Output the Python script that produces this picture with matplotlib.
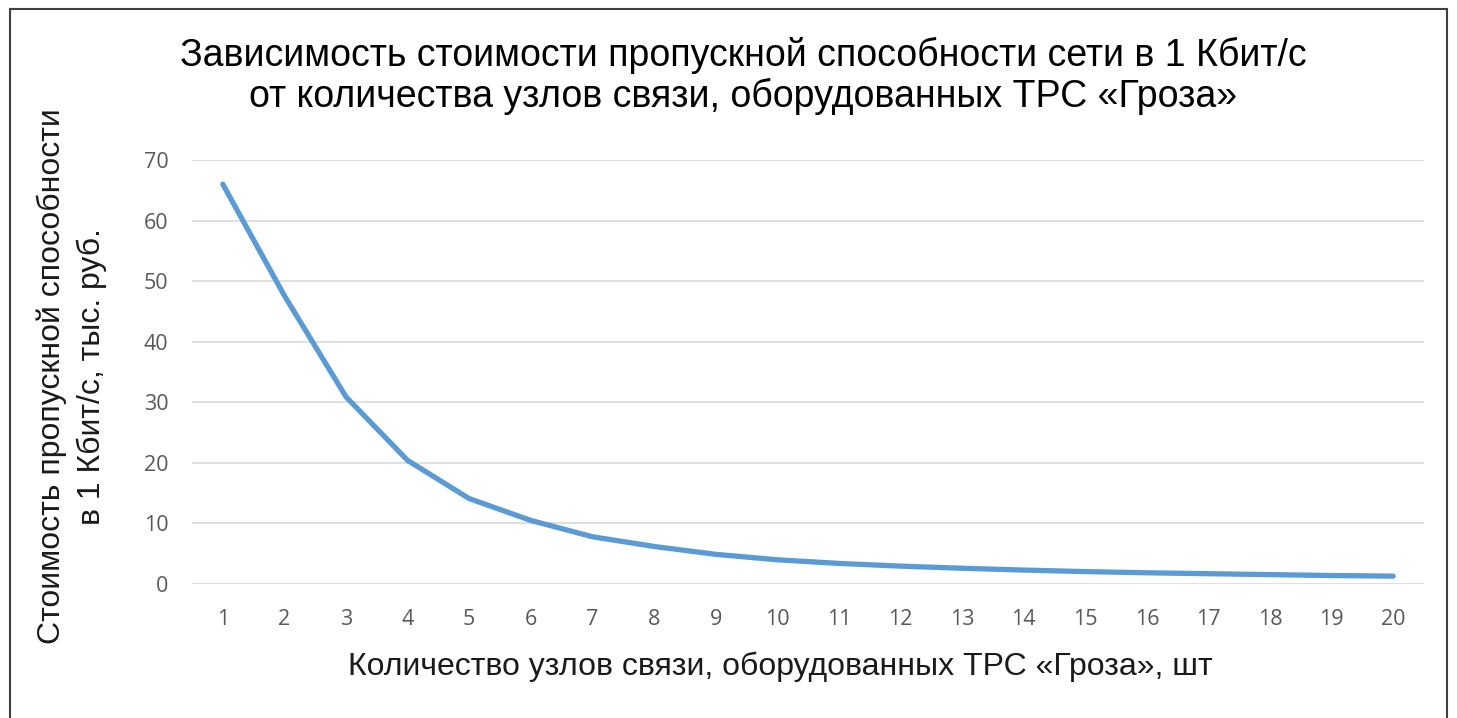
import matplotlib.pyplot as plt
from matplotlib.patches import Rectangle

# Данные
nodes = list(range(1, 21))
cost = [66.0, 47.6, 30.9, 20.4, 14.1, 10.5, 7.8, 6.2, 4.9, 4.0,
        3.4, 2.95, 2.6, 2.3, 2.05, 1.85, 1.7, 1.55, 1.4, 1.3]

title = ("Зависимость стоимости пропускной способности сети в 1 Кбит/с\n"
         "от количества узлов связи, оборудованных ТРС «Гроза»")
xlabel = "Количество узлов связи, оборудованных ТРС «Гроза», шт"
ylabel = "Стоимость пропускной способности\nв 1 Кбит/с, тыс. руб."


def main():
    fig = plt.figure(figsize=(14.57, 7.18), dpi=100)
    ax = fig.add_axes([192 / 1457, 1 - 584 / 718, (1424 - 192) / 1457, (584 - 160) / 718])

    # рамка вокруг диаграммы
    fig.patches.append(Rectangle((10 / 1457, -0.01), 1437 / 1457, 1 - 9 / 718 + 0.01,
                                 transform=fig.transFigure, fill=False,
                                 edgecolor="#404040", linewidth=1.5))

    ax.plot(nodes, cost, color="#5B9BD5", linewidth=3.8, solid_capstyle="round",
            solid_joinstyle="round", zorder=3)

    ax.set_xlim(0.5, 20.5)
    ax.set_ylim(0, 70)
    ax.set_xticks(nodes)
    ax.set_yticks(range(0, 71, 10))
    ax.grid(axis="y", color="#D9D9D9", linewidth=1.2)
    ax.set_axisbelow(True)
    for s in ax.spines.values():
        s.set_visible(False)
    ax.tick_params(length=0, labelsize=15.5, labelcolor="#595959")
    ax.tick_params(axis="x", pad=18)
    ax.tick_params(axis="y", pad=17)
    for lab in ax.get_xticklabels() + ax.get_yticklabels():
        lab.set_fontfamily("Open Sans")

    ax.set_xlabel(xlabel, fontsize=23, fontfamily="Liberation Sans", color="#1a1a1a")
    ax.xaxis.set_label_coords((780 - 192) / (1424 - 192), -(667 - 584) / (584 - 160))
    ax.xaxis.label.set_va("center")
    ax.set_ylabel(ylabel, fontsize=23, fontfamily="Liberation Sans", color="#1a1a1a",
                  linespacing=1.4)
    ax.yaxis.set_label_coords(-(192 - 72) / (1424 - 192), 0.49)
    ax.yaxis.label.set_va("center")

    fig.text(743 / 1457, 1 - 76 / 718, title, ha="center", va="center", fontsize=27,
             fontfamily="Liberation Sans", color="black", linespacing=1.14)

    fig.savefig("out.png", dpi=100)


if __name__ == "__main__":
    main()
